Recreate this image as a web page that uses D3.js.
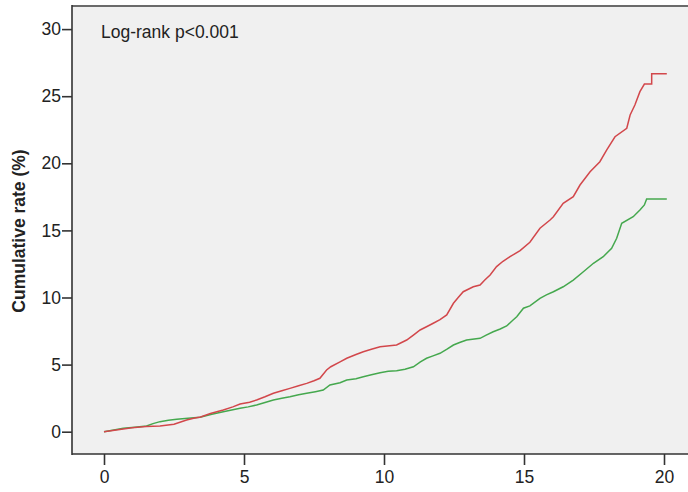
<!DOCTYPE html>
<html>
<head>
<meta charset="utf-8">
<script src="https://cdn.jsdelivr.net/npm/d3@7"></script>
<style>
  body { margin: 0; background: #fff; }
  text { font-family: Arial, "Liberation Sans", sans-serif; fill: #222; }
</style>
</head>
<body>
<script>
// data (years, cumulative %)
var redTime = [0, 0.5, 1.0, 1.5, 2.0, 2.5, 2.95, 3.2, 3.45, 3.8, 4.26, 4.6, 4.86, 5.2, 5.45, 5.75, 6.05, 6.35, 6.64, 6.95,
  7.24, 7.5, 7.71, 7.95, 8.1, 8.43, 8.67, 9.0, 9.26, 9.55, 9.86, 10.2, 10.45, 10.81, 11.05, 11.29, 11.5, 11.76, 12.0, 12.24,
  12.48, 12.65, 12.83, 13.19, 13.43, 13.6, 13.79, 14.02, 14.25, 14.5, 14.86, 15.21, 15.57, 15.93, 16.05, 16.4, 16.76, 17.0,
  17.36, 17.71, 17.95, 18.25, 18.67, 18.79, 18.96, 19.14, 19.3, 19.56, 19.56, 20.1];
var redRate = [0, 0.15, 0.3, 0.38, 0.42, 0.55, 0.87, 1.0, 1.1, 1.35, 1.62, 1.85, 2.06, 2.2, 2.36, 2.6, 2.86, 3.05, 3.23, 3.42,
  3.6, 3.8, 3.98, 4.6, 4.84, 5.2, 5.47, 5.75, 5.96, 6.15, 6.33, 6.4, 6.46, 6.83, 7.2, 7.58, 7.8, 8.08, 8.35, 8.7,
  9.57, 10.0, 10.43, 10.8, 10.93, 11.3, 11.68, 12.3, 12.7, 13.04, 13.5, 14.12, 15.16, 15.77, 16.02, 17.02, 17.51, 18.38,
  19.37, 20.12, 20.99, 21.98, 22.61, 23.6, 24.34, 25.34, 25.9, 25.9, 26.68, 26.68];

var greenTime = [0, 0.35, 0.69, 1.1, 1.52, 1.75, 2.0, 2.3, 2.6, 3.0, 3.43, 3.85, 4.26, 4.86, 5.15, 5.45, 5.75, 6.05, 6.35, 6.64,
  6.95, 7.24, 7.55, 7.83, 8.07, 8.43, 8.67, 9.0, 9.26, 9.55, 9.86, 10.15, 10.45, 10.75, 11.05, 11.3, 11.52, 11.75, 12.0, 12.25,
  12.48, 12.7, 12.95, 13.43, 13.65, 13.9, 14.15, 14.38, 14.6, 14.74, 14.98, 15.21, 15.57, 15.8, 16.05, 16.4, 16.76, 17.12,
  17.48, 17.83, 18.13, 18.31, 18.49, 18.9, 19.14, 19.3, 19.38, 20.1];
var greenRate = [0, 0.12, 0.25, 0.33, 0.42, 0.6, 0.75, 0.85, 0.92, 1.0, 1.07, 1.3, 1.49, 1.74, 1.85, 1.99, 2.18, 2.36, 2.5, 2.61,
  2.75, 2.86, 2.98, 3.1, 3.48, 3.65, 3.85, 3.95, 4.1, 4.25, 4.4, 4.5, 4.55, 4.65, 4.84, 5.2, 5.47, 5.65, 5.84, 6.15,
  6.46, 6.65, 6.83, 6.96, 7.2, 7.45, 7.65, 7.88, 8.3, 8.57, 9.2, 9.37, 9.94, 10.2, 10.43, 10.8, 11.3, 11.92,
  12.55, 13.04, 13.67, 14.41, 15.53, 16.02, 16.52, 16.9, 17.34, 17.34];

var xTicks = [0, 5, 10, 15, 20];
var yTicks = [0, 5, 10, 15, 20, 25, 30];
var note = "Log-rank p<0.001";
var yTitle = "Cumulative rate (%)";

// canvas
var W = 688, H = 492;
var plot = {left: 72, top: 6, right: 688, bottom: 454};

var svg = d3.select("body").append("svg")
    .attr("width", W)
    .attr("height", H);

var x = d3.scaleLinear().domain([0, 20]).range([104, 664]);
var y = d3.scaleLinear().domain([0, 30]).range([431.7, 29.1]);

// plot background
svg.append("rect")
    .attr("x", plot.left)
    .attr("y", plot.top)
    .attr("width", plot.right - plot.left)
    .attr("height", plot.bottom - plot.top)
    .attr("fill", "#f0f0f0");

// y axis
var gy = svg.append("g")
    .attr("transform", "translate(" + plot.left + ",0)")
    .call(d3.axisLeft(y).tickValues(yTicks).tickSize(10).tickPadding(1));
gy.select(".domain").remove();

// x axis
var gx = svg.append("g")
    .attr("transform", "translate(0," + plot.bottom + ")")
    .call(d3.axisBottom(x).tickValues(xTicks).tickSize(11).tickPadding(6));
gx.select(".domain").remove();

svg.selectAll(".tick line").attr("stroke", "#333").attr("stroke-width", 1.6);
svg.selectAll(".tick text")
    .attr("fill", "#2a2a2a")
    .style("font-size", "17.5px")
    .style("font-family", "Arial, 'Liberation Sans', sans-serif");

// frame
svg.append("line")
    .attr("x1", plot.left).attr("x2", plot.right)
    .attr("y1", plot.top).attr("y2", plot.top)
    .attr("stroke", "#6a6a6a").attr("stroke-width", 2);
svg.append("line")
    .attr("x1", plot.left).attr("x2", plot.left)
    .attr("y1", plot.top - 1).attr("y2", plot.bottom + 1)
    .attr("stroke", "#333").attr("stroke-width", 1.6);
svg.append("line")
    .attr("x1", plot.left).attr("x2", plot.right)
    .attr("y1", plot.bottom).attr("y2", plot.bottom)
    .attr("stroke", "#333").attr("stroke-width", 1.6);

// curves (many small KM steps, traced as a polyline)
var line = d3.line()
    .x(function(d) { return x(d[0]); })
    .y(function(d) { return y(d[1]); });

svg.append("path")
    .datum(d3.zip(greenTime, greenRate))
    .attr("fill", "none")
    .attr("stroke", "#45a84e")
    .attr("stroke-width", 1.5)
    .attr("stroke-linejoin", "miter")
    .attr("d", line);

svg.append("path")
    .datum(d3.zip(redTime, redRate))
    .attr("fill", "none")
    .attr("stroke", "#d2474b")
    .attr("stroke-width", 1.5)
    .attr("stroke-linejoin", "miter")
    .attr("d", line);

// labels
svg.append("text")
    .attr("x", 101)
    .attr("y", 37.7)
    .attr("fill", "#2a2a2a")
    .style("font-size", "17.5px")
    .text(note);

svg.append("text")
    .attr("transform", "translate(25,231) rotate(-90)")
    .attr("text-anchor", "middle")
    .attr("fill", "#1a1a1a")
    .style("font-size", "17.5px")
    .style("font-weight", "bold")
    .text(yTitle);
</script>
</body>
</html>
